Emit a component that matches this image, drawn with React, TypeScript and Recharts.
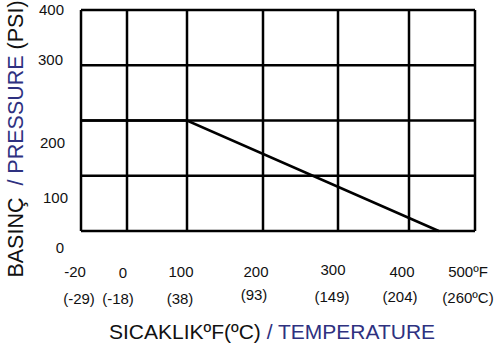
import React from 'react';
import { LineChart, Line, XAxis, YAxis, CartesianGrid, Label } from 'recharts';

// ---- data ----
const tempTicksF = [-20, 0, 100, 200, 300, 400, 500];
const tempLabelsF = ['-20', '0', '100', '200', '300', '400', '500ºF'];
const tempLabelsC = ['(-29)', '(-18)', '(38)', '(93)', '(149)', '(204)', '(260ºC)'];
const pressureTicks = [0, 100, 200, 300, 400];
const curveTempF = [-20, 100, 445];
const curvePressure = [200, 200, 0];

// ---- layout / style ----
const columnWeights = [46, 60, 76, 75, 71, 66]; // printed grid column widths (non-uniform)
const xRow1Dx = [-6, -4, -6, -7, -5, -7, -7];
const xRow1Dy = [46, 47, 46, 46, 44, 46, 46];
const xRow2Dx = [-2, -9, -7, -9, -6, -9, -7];
const xRow2Dy = [72.5, 72.5, 72.5, 69, 71, 71, 72];
const yTickDx = [-17, -13, -16, -18, -17];
const yTickDy = [22, 27, 27.5, -0.5, 5];
const NAVY = '#2e3180';
const FONT = '"Liberation Sans", Arial, sans-serif';

const totalW = columnWeights.reduce((a, b) => a + b, 0);
const cum: number[] = [0];
columnWeights.forEach((w) => cum.push(cum[cum.length - 1] + w));

function tempToPos(t: number): number {
  const n = tempTicksF.length;
  for (let i = 0; i < n - 1; i++) {
    const a = tempTicksF[i];
    const b = tempTicksF[i + 1];
    if (t <= b || i === n - 2) {
      return (cum[i] + ((t - a) / (b - a)) * columnWeights[i]) / totalW;
    }
  }
  return 0;
}

const tickPositions = tempTicksF.map(tempToPos);
const data = curveTempF.map((t, i) => ({ pos: tempToPos(t), psi: curvePressure[i] }));

function nearestIndex(arr: number[], v: number) {
  let best = 0;
  let bd = Infinity;
  arr.forEach((a, i) => {
    const d = Math.abs(a - v);
    if (d < bd) {
      bd = d;
      best = i;
    }
  });
  return best;
}

const XTick = (props: any) => {
  const { x, y, payload } = props;
  const i = nearestIndex(tickPositions, payload.value);
  return (
    <g>
      <text x={x + xRow1Dx[i]} y={y + xRow1Dy[i]} textAnchor="middle" fontSize={15} fontFamily={FONT} fill="#111">
        {tempLabelsF[i]}
      </text>
      <text x={x + xRow2Dx[i]} y={y + xRow2Dy[i]} textAnchor="middle" fontSize={15} fontFamily={FONT} fill="#111">
        {tempLabelsC[i]}
      </text>
    </g>
  );
};

const YTick = (props: any) => {
  const { x, y, payload } = props;
  const i = nearestIndex(pressureTicks, payload.value);
  return (
    <text x={x + yTickDx[i]} y={y + yTickDy[i]} textAnchor="end" fontSize={15} fontFamily={FONT} fill="#111">
      {pressureTicks[i]}
    </text>
  );
};

const XTitle = () => (
  <text x={272} y={339} textAnchor="middle" fontSize={21} fontFamily={FONT} fill="#111" style={{ whiteSpace: 'pre' }}>
    <tspan>SICAKLIKºF(ºC)</tspan>
    <tspan fill={NAVY}> / TEMPERATURE</tspan>
  </text>
);

const YTitle = () => (
  <text
    x={23}
    y={139}
    transform="rotate(-90 23 139)"
    textAnchor="middle"
    fontSize={21.5}
    fontFamily={FONT}
    fill="#111"
    style={{ whiteSpace: 'pre' }}
  >
    <tspan>BASINÇ  </tspan>
    <tspan fill={NAVY}>/ PRESSURE </tspan>
    <tspan>(PSI)</tspan>
  </text>
);

export default function App() {
  return (
    <div style={{ position: 'absolute', left: 0, top: 0, width: 497, height: 349, background: '#fff' }}>
      <LineChart width={497} height={349} data={data} margin={{ top: 10, right: 22, bottom: 0, left: 0 }}>
        <CartesianGrid stroke="#000" strokeWidth={2.5} />
        <XAxis
          dataKey="pos"
          type="number"
          domain={[0, 1]}
          ticks={tickPositions}
          interval={0}
          height={118}
          axisLine={false}
          tickLine={false}
          tickSize={0}
          tickMargin={0}
          tick={<XTick />}
        >
          <Label content={<XTitle />} />
        </XAxis>
        <YAxis
          type="number"
          domain={[0, 400]}
          ticks={pressureTicks}
          interval={0}
          width={81}
          axisLine={false}
          tickLine={false}
          tickSize={0}
          tickMargin={0}
          tick={<YTick />}
        >
          <Label content={<YTitle />} />
        </YAxis>
        <Line
          dataKey="psi"
          type="linear"
          stroke="#000"
          strokeWidth={2.5}
          dot={false}
          isAnimationActive={false}
        />
      </LineChart>
    </div>
  );
}
